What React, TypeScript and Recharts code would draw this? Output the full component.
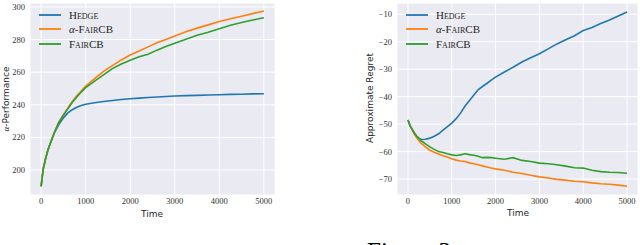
import { LineChart, Line, XAxis, YAxis, CartesianGrid } from "recharts"

// left panel: alpha-performance over time
const perfTime = [0, 25, 50, 100, 150, 200, 300, 400, 500, 600, 700, 800, 900, 1000, 1200, 1400, 1600, 1800, 2000, 2200, 2400, 2600, 2800, 3000, 3250, 3500, 3750, 4000, 4250, 4500, 4750, 5000]
const perfHedge = [190, 196, 201, 207, 212, 216, 223, 228, 232, 235, 237, 238.5, 239.5, 240.3, 241.2, 242, 242.6, 243.2, 243.7, 244.1, 244.5, 244.8, 245.1, 245.4, 245.6, 245.8, 246, 246.2, 246.4, 246.5, 246.7, 246.8]
const perfAlpha = [190, 196, 201, 207, 212, 216, 223.3, 229.5, 234, 238, 242, 245.5, 248.5, 251.5, 256, 260.5, 264, 267.5, 270.5, 273, 275.5, 278, 280, 282.2, 284.8, 287, 289, 291, 292.8, 294.3, 295.9, 297.5]
const perfFair = [190, 196, 201, 207, 212, 216, 223.2, 229.3, 233.5, 237.5, 241.5, 244.8, 247.8, 250.5, 254.5, 258.3, 262.2, 265, 267.3, 269.5, 271, 273.5, 275.8, 277.8, 280.2, 282.6, 284.5, 286.6, 288.7, 290.5, 292, 293.4]

// right panel: approximate regret over time
const regretTime = [0, 50, 100, 150, 200, 250, 300, 400, 500, 600, 700, 800, 900, 1000, 1100, 1200, 1300, 1400, 1500, 1600, 1700, 1800, 1900, 2000, 2200, 2400, 2600, 2800, 3000, 3200, 3400, 3600, 3800, 4000, 4200, 4400, 4600, 4800, 5000]
const regretHedge = [-48.5, -50.5, -52, -53.3, -54.4, -55.2, -55.6, -55.5, -55.1, -54.4, -53.5, -52.2, -50.9, -49.6, -48, -46, -43.5, -41.5, -39.5, -37.5, -36.3, -35.2, -34, -32.9, -31, -29.3, -27.4, -25.8, -24.4, -22.6, -20.8, -19.3, -17.8, -15.9, -14.8, -13.4, -12.1, -10.6, -9.2]
const regretAlpha = [-48.5, -50.5, -52.2, -53.8, -55, -56, -56.9, -58.3, -59.5, -60.2, -60.9, -61.5, -62, -62.6, -63.1, -63.4, -63.6, -64.1, -64.4, -64.8, -65.2, -65.6, -66, -66.3, -66.8, -67.5, -68, -68.6, -69.2, -69.6, -70.1, -70.4, -70.8, -71, -71.4, -71.7, -71.9, -72.2, -72.6]
const regretFair = [-48.5, -50.8, -52, -53.3, -54.4, -55.2, -56, -57.2, -58.3, -59.2, -60, -60.3, -60.8, -61.2, -61.4, -61.2, -60.8, -61.1, -61.3, -61.7, -62.2, -62.1, -62.2, -62.4, -62.8, -62.2, -63.2, -63.6, -64.2, -64.4, -64.8, -65.3, -65.9, -66, -66.8, -67.3, -67.5, -67.6, -67.9]

const timeTicks = [0, 1000, 2000, 3000, 4000, 5000]
const perfTicks = [200, 220, 240, 260, 280, 300]
const regretTicks = [-70, -60, -50, -40, -30, -20, -10]

const series = [
  { key: "hedge", prefix: "", name: "Hedge", color: "#1f77b4" },
  { key: "alpha", prefix: "α-", name: "FairCB", color: "#ff7f0e" },
  { key: "fair", prefix: "", name: "FairCB", color: "#2ca02c" },
]

const perfData = perfTime.map((t, i) => ({ t, hedge: perfHedge[i], alpha: perfAlpha[i], fair: perfFair[i] }))
const regretData = regretTime.map((t, i) => ({ t, hedge: regretHedge[i], alpha: regretAlpha[i], fair: regretFair[i] }))

const serif = "'Liberation Serif', 'DejaVu Serif', serif"
const sans = "'DejaVu Sans', sans-serif"
const tickStyle = { fill: "#333", fontSize: 8.5, fontFamily: serif }

const fmtMinus = (v: number) => (v < 0 ? "\u2212" + Math.abs(v) : String(v))

function SeriesLegend({ left }: { left: number }) {
  return (
    <div style={{ position: "absolute", left, top: 7.4 }}>
      {series.map((s) => (
        <div key={s.key} style={{ display: "flex", alignItems: "center", height: 14.6 }}>
          <svg width={22} height={4} style={{ display: "block" }}>
            <line x1={0} x2={22} y1={2} y2={2} stroke={s.color} strokeWidth={1.8} />
          </svg>
          <span style={{ marginLeft: 8, fontFamily: serif, fontSize: 11, color: "#262626", whiteSpace: "nowrap" }}>
            {s.prefix && <span style={{ fontStyle: "italic" }}>{s.prefix.slice(0, 1)}</span>}
            {s.prefix.slice(1)}
            <span style={{ fontVariant: "small-caps" }}>{s.name}</span>
          </span>
        </div>
      ))}
    </div>
  )
}

function Panel({ data, yDomain, yTicks, yWidth, right }: any) {
  return (
    <LineChart width={320} height={245} data={data} margin={{ top: 3, right, bottom: 30, left: 0 }}>
      <CartesianGrid stroke="#fff" strokeWidth={1} fill="#EAEAF2" />
      <XAxis
        dataKey="t"
        type="number"
        domain={[-250, 5250]}
        ticks={timeTicks}
        allowDataOverflow
        interval={0}
        tick={tickStyle}
        tickLine={false}
        axisLine={false}
        tickSize={1}
        height={20}
      />
      <YAxis
        type="number"
        domain={yDomain}
        ticks={yTicks}
        allowDataOverflow
        interval={0}
        tick={tickStyle}
        tickFormatter={fmtMinus}
        tickLine={false}
        axisLine={false}
        tickSize={3}
        width={yWidth}
      />
      {series.map((s) => (
        <Line
          key={s.key}
          dataKey={s.key}
          name={s.prefix + s.name}
          type="linear"
          stroke={s.color}
          strokeWidth={1.6}
          dot={false}
          isAnimationActive={false}
        />
      ))}
    </LineChart>
  )
}

const axisLabel = { position: "absolute" as const, fontFamily: sans, fontSize: 9, color: "#262626", whiteSpace: "nowrap" as const }

export default function App() {
  return (
    <div style={{ position: "fixed", left: 0, top: 0, width: 640, height: 245, overflow: "hidden", background: "#fff" }}>
      <div style={{ position: "absolute", left: 0, top: 0 }}>
        <Panel data={perfData} yDomain={[184.7, 302.4]} yTicks={perfTicks} yWidth={30} right={45} />
        <SeriesLegend left={39} />
      </div>
      <div style={{ position: "absolute", left: 320, top: 0 }}>
        <Panel data={regretData} yDomain={[-75.8, -5.9]} yTicks={regretTicks} yWidth={77} right={2} />
        <SeriesLegend left={86} />
      </div>
      <div style={{ ...axisLabel, left: 152, top: 214, transform: "translate(-50%, -50%)" }}>Time</div>
      <div style={{ ...axisLabel, left: 518, top: 213, transform: "translate(-50%, -50%)" }}>Time</div>
      <div style={{ ...axisLabel, left: 6, top: 99, transform: "translate(-50%, -50%) rotate(-90deg)" }}>
        <span style={{ fontFamily: serif, fontStyle: "italic" }}>α</span>-Performance
      </div>
      <div style={{ ...axisLabel, left: 370, top: 98, transform: "translate(-50%, -50%) rotate(-90deg)" }}>
        Approximate Regret
      </div>
      <div style={{ position: "absolute", left: 367, top: 238.5, fontFamily: serif, fontSize: 25, lineHeight: "25px", color: "#000" }}>
        Figure 3:
      </div>
    </div>
  )
}
